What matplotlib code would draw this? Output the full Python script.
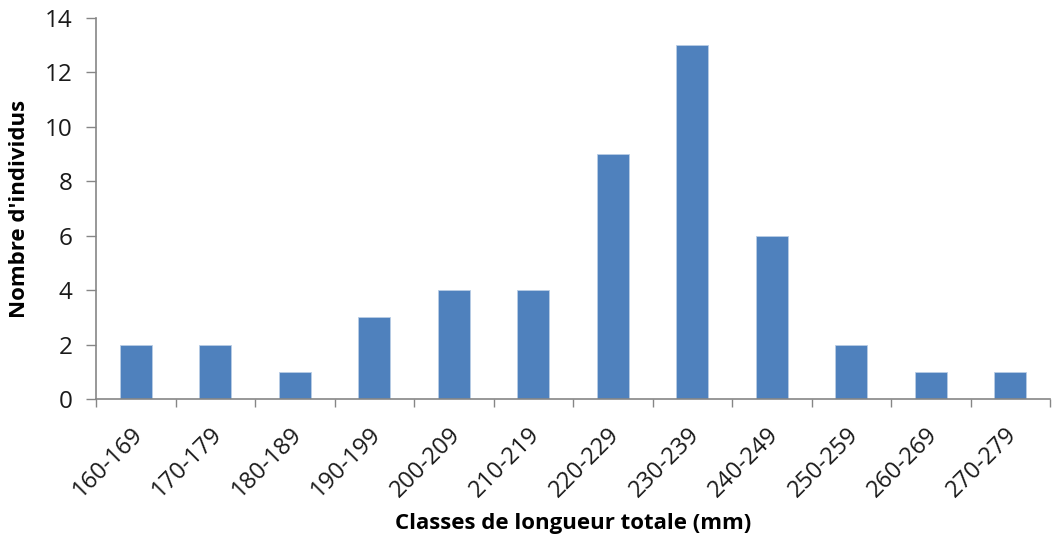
import matplotlib
matplotlib.use("Agg")
import matplotlib.pyplot as plt
import matplotlib.transforms as mtransforms
import numpy as np

# Length classes (mm) and number of individuals per class
classes = ["160-169", "170-179", "180-189", "190-199", "200-209", "210-219",
           "220-229", "230-239", "240-249", "250-259", "260-269", "270-279"]
counts = [2, 2, 1, 3, 4, 4, 9, 13, 6, 2, 1, 1]
y_ticks = [0, 2, 4, 6, 8, 10, 12, 14]

plt.rcParams["font.family"] = ["Open Sans", "DejaVu Sans"]

fig = plt.figure(figsize=(10.52, 5.44), dpi=100)
ax_left, ax_right, ax_top, ax_bottom = 96, 1050, 18, 399
ax_w, ax_h = ax_right - ax_left, ax_bottom - ax_top
ax = fig.add_axes([ax_left / 1052, (544 - ax_bottom) / 544, ax_w / 1052, ax_h / 544])

x = np.arange(len(classes))
ax.bar(x, counts, width=0.4, color="#4F81BD", edgecolor="#B9CDE5", linewidth=0.6, zorder=2)

ax.set_xlim(-0.5, len(classes) - 0.5)
ax.set_ylim(0, 14)
ax.set_yticks(y_ticks)
ax.set_yticklabels([str(v) for v in y_ticks], fontsize=17.5, color="#1a1a1a")

# category labels centred under bars, tick marks on category boundaries
ax.set_xticks(x)
ax.set_xticklabels(classes, rotation=45, ha="right", rotation_mode="anchor",
                   fontsize=17, color="#1a1a1a")
ax.tick_params(axis="x", which="major", length=0, pad=17)
shift = mtransforms.ScaledTranslation(-5 / 100, 0, fig.dpi_scale_trans)
for lbl in ax.get_xticklabels():
    lbl.set_transform(lbl.get_transform() + shift)
ax.set_xticks(np.arange(-0.5, len(classes) - 0.4, 1.0), minor=True)
ax.tick_params(axis="x", which="minor", length=6, width=1.0, color="#868686", direction="out")
ax.tick_params(axis="y", length=7, width=1.0, color="#868686", direction="out", pad=10)

for side in ("top", "right"):
    ax.spines[side].set_visible(False)
for side in ("left", "bottom"):
    ax.spines[side].set_color("#868686")
    ax.spines[side].set_linewidth(1.2)

ax.set_ylabel("Nombre d'individus", fontsize=16, fontweight="bold", va="center")
ax.yaxis.set_label_coords(-(ax_left - 20) / ax_w, 0.5)
ax.set_xlabel("Classes de longueur totale (mm)", fontsize=16, fontweight="bold", va="center")
ax.xaxis.set_label_coords(0.5, -(524 - ax_bottom) / ax_h)

fig.savefig("out.png", dpi=100, facecolor="white")
